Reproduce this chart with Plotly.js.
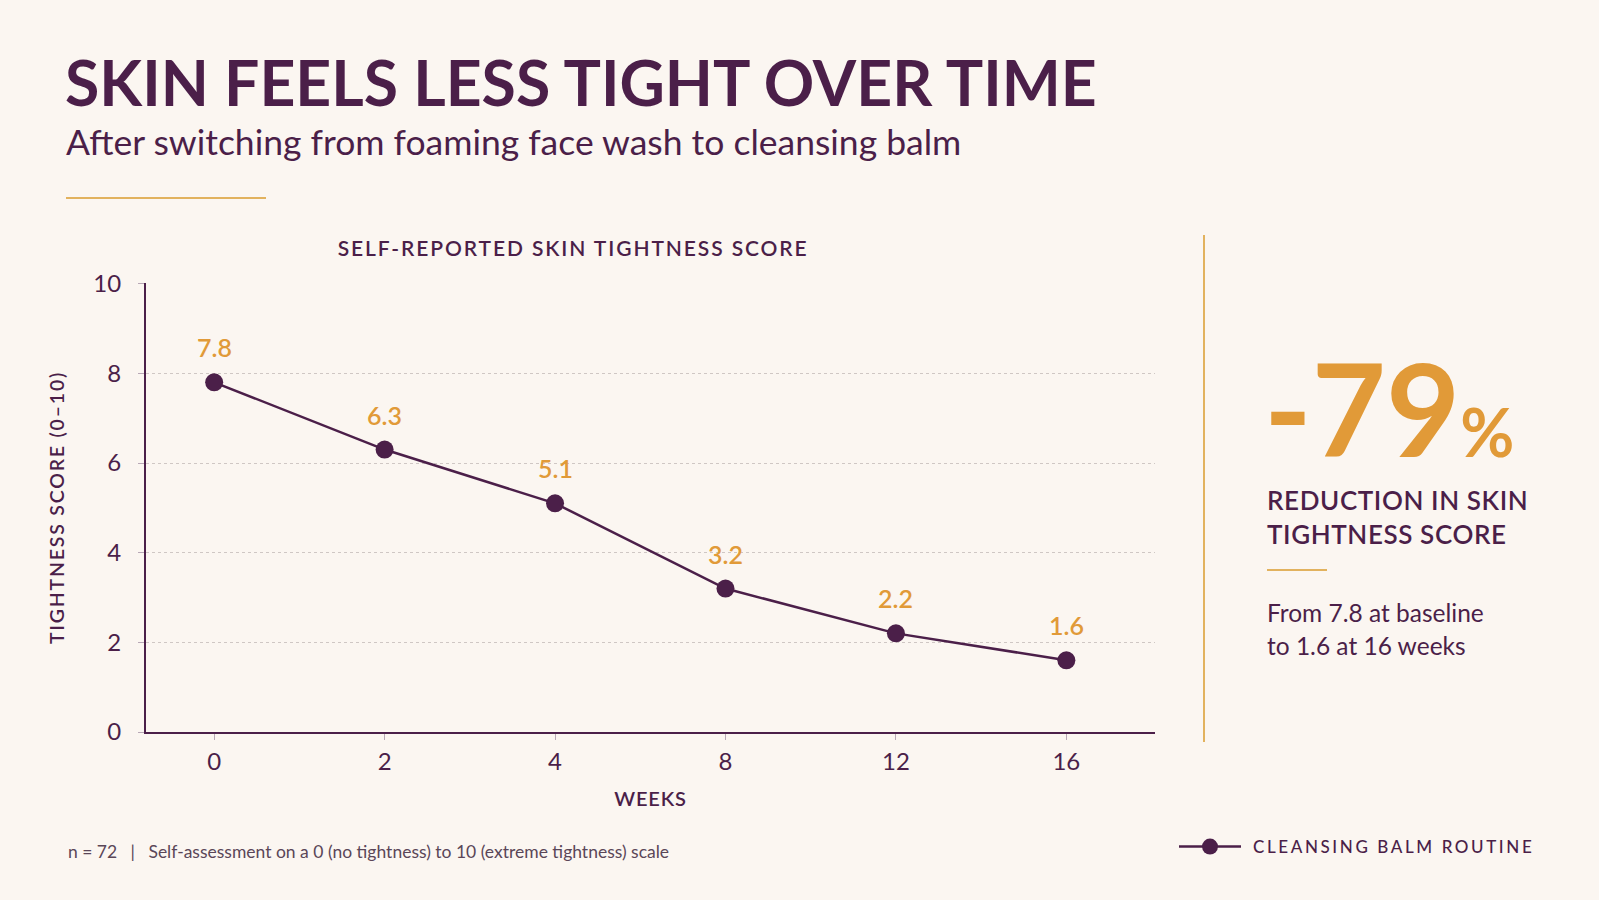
<!DOCTYPE html>
<html>
<head>
<meta charset="utf-8">
<script src="https://cdn.plot.ly/plotly-3.0.1.min.js"></script>
<style>
  html, body { margin: 0; padding: 0; background: #fbf6f1; }
  #chart { width: 1599px; height: 900px; }
  .legendtext { letter-spacing: 2.6px; transform: translateX(7px); }
  .ytitle { letter-spacing: 1.8px; }
  .xtitle { letter-spacing: 0.8px; }
  .annotation[data-index="2"] .annotation-text { letter-spacing: 1.9px; }
  .annotation[data-index="4"] .annotation-text { letter-spacing: 0.6px; }
</style>
</head>
<body>
<div id="chart"></div>
<script>
// ---- data ----
const weeks = ['0', '2', '4', '8', '12', '16'];
const scores = [7.8, 6.3, 5.1, 3.2, 2.2, 1.6];
const seriesName = 'CLEANSING BALM ROUTINE';
const yTicks = [0, 2, 4, 6, 8, 10];
const sampleSize = 72;

// ---- style ----
const PURPLE = '#4b1f49';
const GOLD = '#e19a38';
const GOLD_LINE = '#e2b25e';
const BG = '#fbf6f1';
const FONT = 'Lato, "Noto Sans", sans-serif';

const W = 1599, H = 900;
const M = { l: 146, r: 444, t: 283, b: 168 };
const PW = W - M.l - M.r, PH = H - M.t - M.b;
const px = x => (x - M.l) / PW;
const py = y => (H - M.b - y) / PH;

const first = scores[0], last = scores[scores.length - 1];
const pct = Math.round((last - first) / first * 100);

const trace = {
  x: weeks, y: scores, type: 'scatter', mode: 'lines+markers',
  name: seriesName,
  line: { color: PURPLE, width: 2.5 },
  marker: { color: PURPLE, size: 18 },
  hoverinfo: 'x+y', showlegend: true
};

// category axis: annotation x given as category index
const valueLabels = weeks.map((w, i) => ({
  x: i, y: scores[i], xref: 'x', yref: 'y', text: scores[i].toFixed(1),
  showarrow: false, yshift: 35, yanchor: 'middle',
  font: { family: FONT, size: 25, color: GOLD, weight: 600 }
}));

const annotations = [
  { // 0 title
    text: 'SKIN FEELS LESS TIGHT OVER TIME', xref: 'paper', yref: 'paper',
    x: px(63), y: py(82), xanchor: 'left', yanchor: 'middle', showarrow: false,
    font: { family: FONT, size: 62.5, color: PURPLE, weight: 700 }
  },
  { // 1 subtitle
    text: 'After switching from foaming face wash to cleansing balm', xref: 'paper', yref: 'paper',
    x: px(64), y: py(141), xanchor: 'left', yanchor: 'middle', showarrow: false,
    font: { family: FONT, size: 35.5, color: PURPLE, weight: 400 }
  },
  { // 2 chart title
    text: 'SELF-REPORTED SKIN TIGHTNESS SCORE', xref: 'paper', yref: 'paper',
    x: px(573), y: py(247), xanchor: 'center', yanchor: 'middle', showarrow: false,
    font: { family: FONT, size: 21, color: PURPLE, weight: 600 }
  },
  { // 3 big number
    text: '\u2011' + Math.abs(pct) + '<span style="font-size:66px">%</span>',
    xref: 'paper', yref: 'paper',
    x: px(1262), y: py(407), xanchor: 'left', yanchor: 'middle', showarrow: false,
    font: { family: FONT, size: 128, color: GOLD, weight: 700 }
  },
  { // 4 reduction label
    text: 'REDUCTION IN SKIN<br>TIGHTNESS SCORE', xref: 'paper', yref: 'paper',
    x: px(1265), y: py(517), xanchor: 'left', yanchor: 'middle', align: 'left', showarrow: false,
    font: { family: FONT, size: 26, color: PURPLE, weight: 600 }
  },
  { // 5 from line 1
    text: 'From ' + first.toFixed(1) + ' at baseline', xref: 'paper', yref: 'paper',
    x: px(1265), y: py(612), xanchor: 'left', yanchor: 'middle', showarrow: false,
    font: { family: FONT, size: 24.5, color: PURPLE, weight: 400 }
  },
  { // 6 from line 2
    text: 'to ' + last.toFixed(1) + ' at ' + weeks[weeks.length - 1] + ' weeks', xref: 'paper', yref: 'paper',
    x: px(1265), y: py(645), xanchor: 'left', yanchor: 'middle', showarrow: false,
    font: { family: FONT, size: 24.5, color: PURPLE, weight: 400 }
  },
  { // 7 footer
    text: 'n = ' + sampleSize + '\u00a0\u00a0\u00a0|\u00a0\u00a0\u00a0Self-assessment on a 0 (no tightness) to 10 (extreme tightness) scale',
    xref: 'paper', yref: 'paper',
    x: px(66), y: py(851), xanchor: 'left', yanchor: 'middle', showarrow: false,
    font: { family: FONT, size: 17.5, color: '#5a4658', weight: 400 }
  }
].concat(valueLabels);

const shapes = [
  { type: 'line', xref: 'paper', yref: 'paper', x0: px(66), x1: px(266), y0: py(198), y1: py(198),
    line: { color: GOLD_LINE, width: 2 } },
  { type: 'line', xref: 'paper', yref: 'paper', x0: px(1204), x1: px(1204), y0: py(235), y1: py(742),
    line: { color: GOLD_LINE, width: 2 } },
  { type: 'line', xref: 'paper', yref: 'paper', x0: px(1267), x1: px(1327), y0: py(570), y1: py(570),
    line: { color: GOLD_LINE, width: 2 } }
];

const layout = {
  width: W, height: H,
  margin: M,
  paper_bgcolor: BG, plot_bgcolor: BG,
  font: { family: FONT, color: PURPLE },
  showlegend: true,
  legend: {
    x: px(1174), y: py(847), xanchor: 'left', yanchor: 'middle',
    bgcolor: 'rgba(0,0,0,0)', borderwidth: 0, itemwidth: 62,
    font: { family: FONT, size: 17, color: PURPLE, weight: 500 }
  },
  xaxis: {
    type: 'category', range: [-0.4, 5.52],
    showline: true, linecolor: PURPLE, linewidth: 2,
    showgrid: false, zeroline: false,
    ticks: 'outside', ticklen: 6, tickwidth: 1, tickcolor: '#b8a8b6',
    tickfont: { family: FONT, size: 24, color: PURPLE },
    ticklabelstandoff: 1,
    title: { text: 'WEEKS', standoff: 18, font: { family: FONT, size: 20, color: PURPLE, weight: 600 } }
  },
  yaxis: {
    range: [0, 10.015], tickvals: yTicks, ticktext: yTicks.map(String),
    showline: true, linecolor: PURPLE, linewidth: 2,
    showgrid: true, gridcolor: '#cfc7c4', gridwidth: 1, griddash: 'dot',
    zeroline: false,
    ticks: 'outside', ticklen: 6, tickwidth: 1, tickcolor: '#b8a8b6',
    tickfont: { family: FONT, size: 24, color: PURPLE },
    ticklabelstandoff: 12,
    title: { text: 'TIGHTNESS SCORE (0\u201310)', standoff: 24, font: { family: FONT, size: 19.5, color: PURPLE, weight: 600 } }
  },
  annotations: annotations,
  shapes: shapes
};

Plotly.newPlot('chart', [trace], layout, { displayModeBar: false });
</script>
</body>
</html>
